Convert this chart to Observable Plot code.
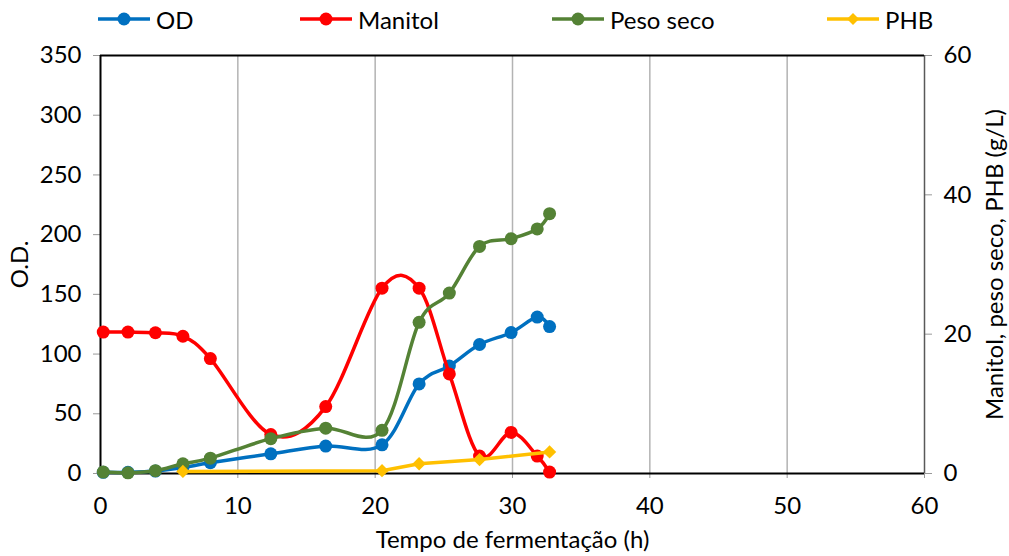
<!DOCTYPE html>
<html><head><meta charset="utf-8">
<script src="https://cdn.jsdelivr.net/npm/d3@7"></script>
<script src="https://cdn.jsdelivr.net/npm/@observablehq/plot@0.6"></script>
<style>
body{margin:0;background:#fff;font-family:Lato,sans-serif;}
#legend{position:relative;height:38px;width:1009px;}
.item{position:absolute;top:0;height:38px;display:flex;align-items:center;font-size:24px;color:#000;}
.item svg{margin-right:6px;}
</style></head><body>
<div id="legend"></div>
<div id="chart"></div>
<script>
const time = [0.2, 2, 4, 6, 8, 12.4, 16.4, 20.5, 23.2, 25.4, 27.6, 29.9, 31.8, 32.7];
const od = [1, 1, 2, 5, 9, 16.5, 23, 24, 75, 90, 108, 118, 131, 123];
const manitol = [20.3, 20.3, 20.2, 19.7, 16.5, 5.6, 9.6, 26.6, 26.6, 14.3, 2.5, 5.9, 2.5, 0.2];
const pesoSeco = [0.2, 0.1, 0.4, 1.4, 2.2, 5.0, 6.5, 6.2, 21.7, 25.9, 32.6, 33.7, 35.1, 37.3];
const phbTime = [6, 20.5, 23.2, 27.6, 32.7];
const phb = [0.3, 0.4, 1.4, 2.0, 3.1];
const xTicks = [0, 10, 20, 30, 40, 50, 60];
const yLeftTicks = [0, 50, 100, 150, 200, 250, 300, 350];
const yRightTicks = [0, 20, 40, 60];
const seriesNames = ["OD", "Manitol", "Peso seco", "PHB"];
const colors = ["#0070C0", "#FF0000", "#548235", "#FFC000"];

const k = 350 / 60; // right axis (g/L) -> left axis units
const odData = time.map((t, i) => ({t, v: od[i]}));
const manData = time.map((t, i) => ({t, v: manitol[i] * k}));
const psData = time.map((t, i) => ({t, v: pesoSeco[i] * k}));
const phbData = phbTime.map((t, i) => ({t, v: phb[i] * k}));

// legend
const legendX = [98, 300, 552, 827];
const legend = document.getElementById("legend");
seriesNames.forEach((n, i) => {
  const d = document.createElement("div");
  d.className = "item";
  d.style.left = legendX[i] + "px";
  const marker = i === 3
    ? `<path d="M26,13 L32,19 L26,25 L20,19 Z" fill="${colors[i]}"/>`
    : `<circle cx="26" cy="19" r="6.5" fill="${colors[i]}"/>`;
  d.innerHTML = `<svg width="52" height="38"><line x1="0" x2="52" y1="19" y2="19" stroke="${colors[i]}" stroke-width="3.5"/>${marker}</svg><span>${n}</span>`;
  legend.appendChild(d);
});

const lineOpts = (c) => ({x: "t", y: "v", stroke: c, strokeWidth: 3.5, curve: "cardinal"});
const dotOpts = (c) => ({x: "t", y: "v", fill: c, r: 6.5});

const chart = Plot.plot({
  width: 1009,
  height: 518,
  marginLeft: 100,
  marginRight: 85,
  marginTop: 17,
  marginBottom: 83,
  style: {fontFamily: "Lato, sans-serif", fontSize: "24px", color: "#000", background: "#fff"},
  x: {domain: [0, 60]},
  y: {domain: [0, 350]},
  marks: [
    Plot.ruleX([10, 20, 30, 40, 50], {stroke: "#b3b3b3", strokeWidth: 1.5, y1: 0, y2: 350}),
    Plot.axisX({ticks: xTicks, tickSize: 5, tickPadding: 18, stroke: "#999", fontSize: 24,
      label: "Tempo de fermentação (h)", labelAnchor: "center", labelArrow: "none", labelOffset: 74}),
    Plot.axisY({anchor: "left", ticks: yLeftTicks, tickSize: 7, tickPadding: 12, stroke: "#999", fontSize: 24,
      label: "O.D.", labelAnchor: "center", labelArrow: "none", labelOffset: 90}),
    Plot.axisY({anchor: "right", ticks: yRightTicks.map(v => v * k), tickFormat: d => Math.round(d / k),
      tickSize: 7, tickPadding: 12, stroke: "#999", fontSize: 24,
      label: "Manitol, peso seco, PHB (g/L)", labelAnchor: "center", labelArrow: "none", labelOffset: 78}),
    Plot.ruleX([60], {stroke: "#595959", strokeWidth: 1.5}),
    Plot.ruleY([350], {stroke: "#000", strokeWidth: 2}),
    Plot.ruleY([0], {stroke: "#000", strokeWidth: 2}),
    Plot.ruleX([0], {stroke: "#000", strokeWidth: 2}),
    Plot.line(odData, lineOpts(colors[0])),
    Plot.dot(odData, dotOpts(colors[0])),
    Plot.line(manData, lineOpts(colors[1])),
    Plot.dot(manData, dotOpts(colors[1])),
    Plot.line(psData, lineOpts(colors[2])),
    Plot.dot(psData, dotOpts(colors[2])),
    Plot.line(phbData, {x: "t", y: "v", stroke: colors[3], strokeWidth: 3.5}),
    Plot.dot(phbData, {x: "t", y: "v", fill: colors[3], r: 6, symbol: "diamond2"})
  ]
});
document.getElementById("chart").appendChild(chart);
</script>
</body></html>
